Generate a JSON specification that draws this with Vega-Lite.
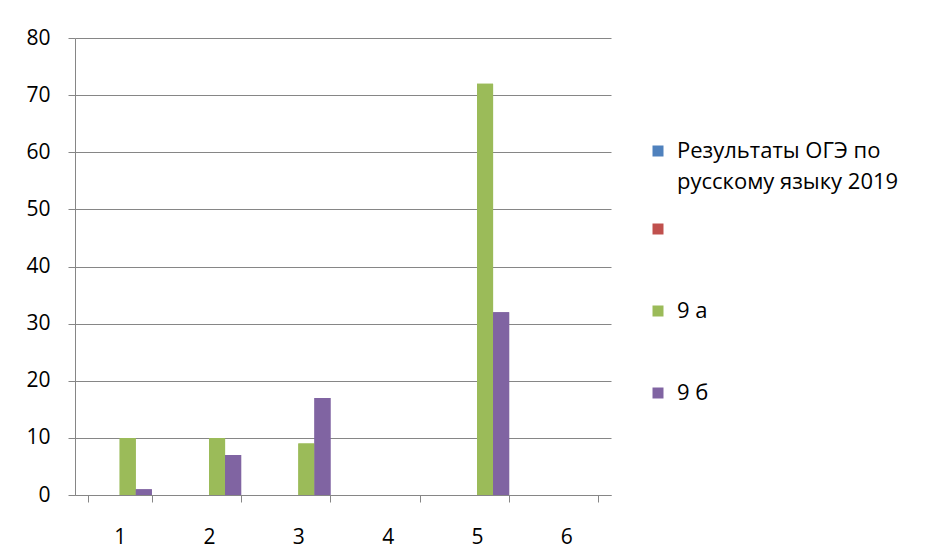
{
  "$schema": "https://vega.github.io/schema/vega-lite/v6.json",
  "width": 536,
  "height": 457,
  "autosize": {"type": "none"},
  "padding": {"left": 75, "top": 38, "right": 320, "bottom": 62},
  "background": "white",
  "config": {
    "view": {"stroke": null},
    "font": "Open Sans",
    "style": {"guide-label": {"lineHeight": 31}}
  },
  "data": {
    "values": [
      {"cat": "1", "series": "9 а", "value": 10},
      {"cat": "1", "series": "9 б", "value": 1},
      {"cat": "2", "series": "9 а", "value": 10},
      {"cat": "2", "series": "9 б", "value": 7},
      {"cat": "3", "series": "9 а", "value": 9},
      {"cat": "3", "series": "9 б", "value": 17},
      {"cat": "5", "series": "9 а", "value": 72},
      {"cat": "5", "series": "9 б", "value": 32}
    ]
  },
  "encoding": {
    "x": {
      "field": "cat",
      "type": "nominal",
      "scale": {"domain": ["1", "2", "3", "4", "5", "6"], "paddingInner": 0.28, "paddingOuter": 0.14},
      "axis": {
        "title": null,
        "labelAngle": 0,
        "tickBand": "extent",
        "tickSize": 7,
        "tickColor": "#868686",
        "domainColor": "#868686",
        "labelPadding": 24,
        "labelFontSize": 21,
        "labelColor": "#000000",
        "grid": false
      }
    },
    "xOffset": {
      "field": "series",
      "scale": {"domain": ["Результаты ОГЭ по русскому языку 2019", "", "9 а", "9 б"], "paddingInner": 0, "paddingOuter": 0}
    },
    "y": {
      "field": "value",
      "type": "quantitative",
      "scale": {"domain": [0, 80], "nice": false},
      "axis": {
        "title": null,
        "values": [0, 10, 20, 30, 40, 50, 60, 70, 80],
        "grid": true,
        "gridColor": "#868686",
        "domainColor": "#868686",
        "tickColor": "#868686",
        "tickSize": 7,
        "labelPadding": 18,
        "labelFontSize": 21,
        "labelColor": "#000000"
      }
    }
  },
  "layer": [
    {
      "mark": {"type": "bar"},
      "encoding": {
        "color": {
          "field": "series",
          "type": "nominal",
          "scale": {
            "domain": ["Результаты ОГЭ по русскому языку 2019", "", "9 а", "9 б"],
            "range": ["#4F81BD", "#C0504D", "#9BBB59", "#8064A2"]
          },
          "legend": {
            "title": null,
            "orient": "none",
            "legendX": 572,
            "legendY": 102,
            "values": ["Результаты ОГЭ по русскому языку 2019"],
            "symbolType": "square",
            "symbolSize": 121,
            "symbolStrokeWidth": 0,
            "labelFontSize": 22,
            "labelOffset": 8,
            "labelColor": "#000000",
            "labelLimit": 400,
            "labelExpr": "datum.label == 'Результаты ОГЭ по русскому языку 2019' ? ['Результаты ОГЭ по', 'русскому языку 2019'] : datum.label"
          }
        }
      }
    },
    {
      "mark": {"type": "bar"},
      "encoding": {
        "color": {
          "field": "series",
          "type": "nominal",
          "scale": {
            "domain": ["Результаты ОГЭ по русскому языку 2019", "", "9 а", "9 б"],
            "range": ["#4F81BD", "#C0504D", "#9BBB59", "#8064A2"]
          },
          "legend": {
            "title": null,
            "orient": "none",
            "legendX": 572,
            "legendY": 180,
            "values": ["", "9 а", "9 б"],
            "symbolType": "square",
            "symbolSize": 121,
            "symbolStrokeWidth": 0,
            "labelFontSize": 22,
            "labelOffset": 8,
            "labelColor": "#000000",
            "labelLimit": 400,
            "rowPadding": 60
          }
        }
      }
    }
  ],
  "resolve": {"scale": {"color": "independent"}, "legend": {"color": "independent"}}
}
